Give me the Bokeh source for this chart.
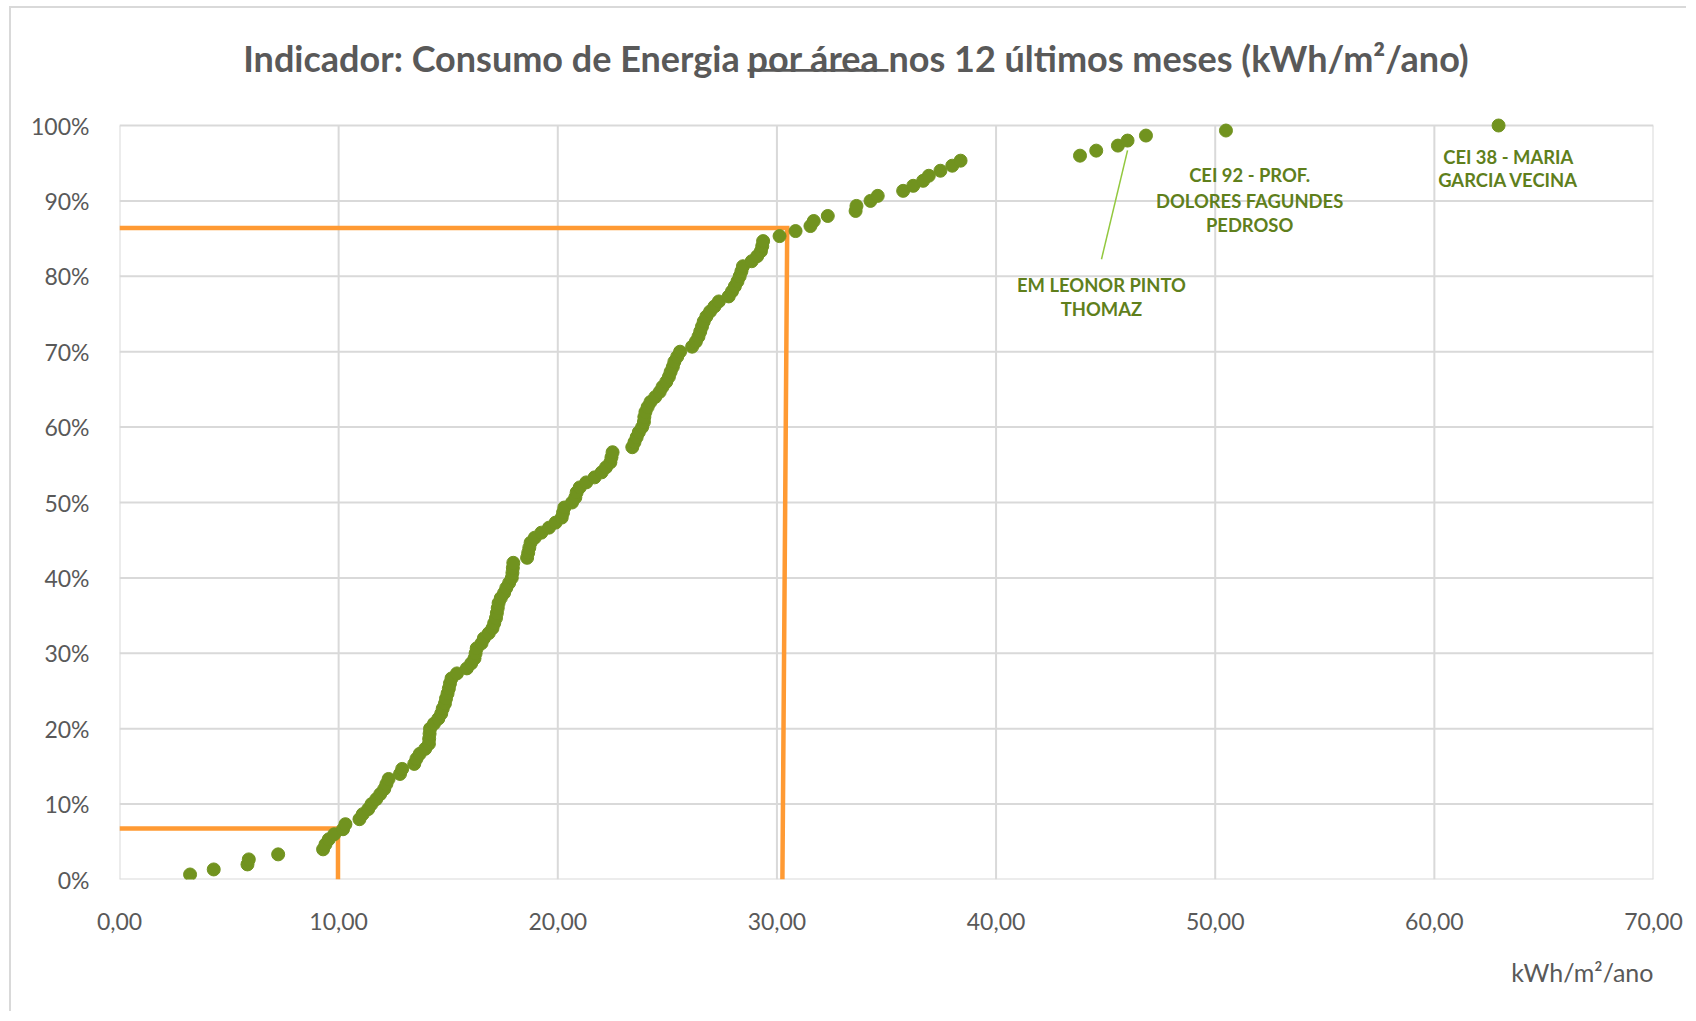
from bokeh.plotting import figure
from bokeh.models import (Range1d, FixedTicker, NumeralTickFormatter,
                          CustomJSTickFormatter, Label, BoxAnnotation, Title)
from bokeh.core.properties import value
from bokeh.embed import file_html
from bokeh.resources import INLINE

# ---------------- data ----------------
# consumption per area (kWh/m2/ano), sorted – one value per school
consumo = [
    3.22, 4.30, 5.84, 5.90, 7.24, 9.29, 9.40, 9.55, 9.80, 10.20,
    10.31, 10.95, 11.10, 11.35, 11.50, 11.72, 11.90, 12.08, 12.18, 12.28,
    12.80, 12.90, 13.45, 13.55, 13.70, 13.95, 14.12, 14.13, 14.15, 14.17,
    14.35, 14.55, 14.68, 14.75, 14.85, 14.90, 14.97, 15.03, 15.08, 15.15,
    15.40, 15.85, 16.05, 16.20, 16.25, 16.30, 16.52, 16.63, 16.85, 17.02,
    17.10, 17.18, 17.22, 17.26, 17.30, 17.40, 17.55, 17.65, 17.78, 17.90,
    17.93, 17.95, 17.97, 18.60, 18.65, 18.70, 18.76, 18.95, 19.25, 19.60,
    19.90, 20.18, 20.24, 20.30, 20.65, 20.80, 20.86, 21.00, 21.30, 21.68,
    22.00, 22.20, 22.40, 22.45, 22.50, 23.40, 23.50, 23.60, 23.70, 23.85,
    23.93, 23.95, 24.00, 24.10, 24.23, 24.45, 24.65, 24.78, 24.95, 25.07,
    25.15, 25.25, 25.32, 25.45, 25.58, 26.13, 26.30, 26.42, 26.50, 26.58,
    26.66, 26.78, 26.95, 27.15, 27.35, 27.80, 27.95, 28.08, 28.20, 28.30,
    28.38, 28.45, 28.85, 29.10, 29.27, 29.33, 29.37, 30.12, 30.85, 31.53,
    31.68, 32.32, 33.59, 33.63, 34.27, 34.60, 35.76, 36.22, 36.67, 36.93,
    37.46, 38.00, 38.38, 43.83, 44.57, 45.56, 46.00, 46.84, 50.49, 62.93,
]
# cumulative share of schools (empirical distribution)
percentual = [(k + 1) / len(consumo) for k in range(len(consumo))]

x_ticks = [0, 10, 20, 30, 40, 50, 60, 70]
y_ticks = [0.0, 0.1, 0.2, 0.3, 0.4, 0.5, 0.6, 0.7, 0.8, 0.9, 1.0]
x_min, x_max = 0, 70
y_min, y_max = 0.0, 1.0

# orange reference lines (percentile guides)
ref_baixo_x = [0.0, 9.97, 9.97]
ref_baixo_y = [0.0676, 0.0676, 0.0]
ref_alto_x = [0.0, 30.47, 30.25]
ref_alto_y = [0.864, 0.864, 0.0]

# data labels for outliers (one entry per text line)
rotulo_x = [44.81, 44.81, 51.57, 51.57, 51.57, 63.37, 63.37]
rotulo_y = [0.7888, 0.7572, 0.9346, 0.9001, 0.8686, 0.9588, 0.9273]
rotulo_txt = ["EM LEONOR PINTO", "THOMAZ",
              "CEI 92 - PROF.", "DOLORES FAGUNDES", "PEDROSO",
              "CEI 38 - MARIA", "GARCIA VECINA"]
guia_x0, guia_y0, guia_x1, guia_y1 = [46.0], [0.967], [44.81], [0.8226]

titulo = ["Indicador: Consumo de Energia", "por área",
          "nos 12 últimos meses (kWh/m²/ano)"]
eixo_x_titulo = "kWh/m²/ano"

# ---------------- figure ----------------
GREEN = "#71931F"
LABEL_GREEN = "#5F7F1C"
ORANGE = "#FF9A33"
GRID = "#D9D9D9"
TXT = "#595959"
FONT = "Lato"

# frame extends up to the top of the canvas so that the title and the
# top-most point are drawn without clipping; grid lines are drawn by hand
p = figure(width=1677, height=1005, output_backend="svg", toolbar_location=None,
           x_range=Range1d(0, 70), y_range=Range1d(0, 871 / 754),
           min_border_left=108, min_border_top=0, min_border_right=35,
           min_border_bottom=134)
p.styles = {"margin-left": "9px", "margin-top": "6px",
            "border-left": "2px solid #D9D9D9", "border-top": "2px solid #D9D9D9"}
p.outline_line_color = None
p.grid.visible = False
p.background_fill_color = "white"
p.border_fill_color = "white"

for ax in (p.xaxis[0], p.yaxis[0]):
    ax.axis_line_color = None
    ax.major_tick_line_color = None
    ax.minor_tick_line_color = None
    ax.major_tick_out = 0
    ax.major_tick_in = 0
    ax.major_label_text_font = FONT
    ax.major_label_text_font_size = "23px"
    ax.major_label_text_color = TXT

p.xaxis[0].ticker = FixedTicker(ticks=x_ticks)
p.yaxis[0].ticker = FixedTicker(ticks=y_ticks)
p.yaxis[0].formatter = NumeralTickFormatter(format="0%")
p.xaxis[0].formatter = CustomJSTickFormatter(code="return tick.toFixed(2).replace('.', ',');")
p.yaxis[0].major_label_standoff = 30
p.xaxis[0].major_label_standoff = 33

# grid lines (limited to the 0..70 x 0..100% plot area)
p.segment(x0=x_ticks, x1=x_ticks, y0=[y_min] * len(x_ticks), y1=[y_max] * len(x_ticks),
          line_color=GRID, line_width=2)
p.segment(x0=[x_min] * len(y_ticks), x1=[x_max] * len(y_ticks), y0=y_ticks, y1=y_ticks,
          line_color=GRID, line_width=2)

# reference lines
p.line(ref_baixo_x, ref_baixo_y, line_color=ORANGE, line_width=4.5, line_join="miter")
p.line(ref_alto_x, ref_alto_y, line_color=ORANGE, line_width=4.5, line_join="miter")

# leader line
p.segment(x0=guia_x0, y0=guia_y0, x1=guia_x1, y1=guia_y1,
          line_color="#92C83E", line_width=1.5)

# points
p.scatter(consumo, percentual, size=13, fill_color=GREEN, line_color=GREEN)

# outlier labels
p.text(x=rotulo_x, y=rotulo_y, text=rotulo_txt, text_align="center",
       text_baseline="middle", text_font=value(FONT), text_font_style="bold",
       text_font_size="18.4px", text_color=LABEL_GREEN)

# title in three parts (middle part underlined)
common = dict(text_font=FONT, text_font_style="bold", text_font_size="36px",
              text_color=TXT, text_baseline="alphabetic")
p.add_layout(Label(x=28.30, y=1.089, text=titulo[0], text_align="right", **common))
p.add_layout(Label(x=28.66, y=1.089, text=titulo[1], text_align="left", **common))
p.add_layout(Label(x=35.09, y=1.089, text=titulo[2], text_align="left", **common))
p.add_layout(BoxAnnotation(left=28.66, right=35.09, bottom=1.0712, top=1.0748,
                           fill_color=TXT, fill_alpha=1, line_color=None))

# x axis title, right aligned to the plot area
p.add_layout(Title(text=eixo_x_titulo, align="right", text_font=FONT,
                   text_font_style="normal", text_font_size="25px",
                   text_color=TXT, standoff=44), "below")

open("out.html", "w").write(file_html(p, INLINE))
